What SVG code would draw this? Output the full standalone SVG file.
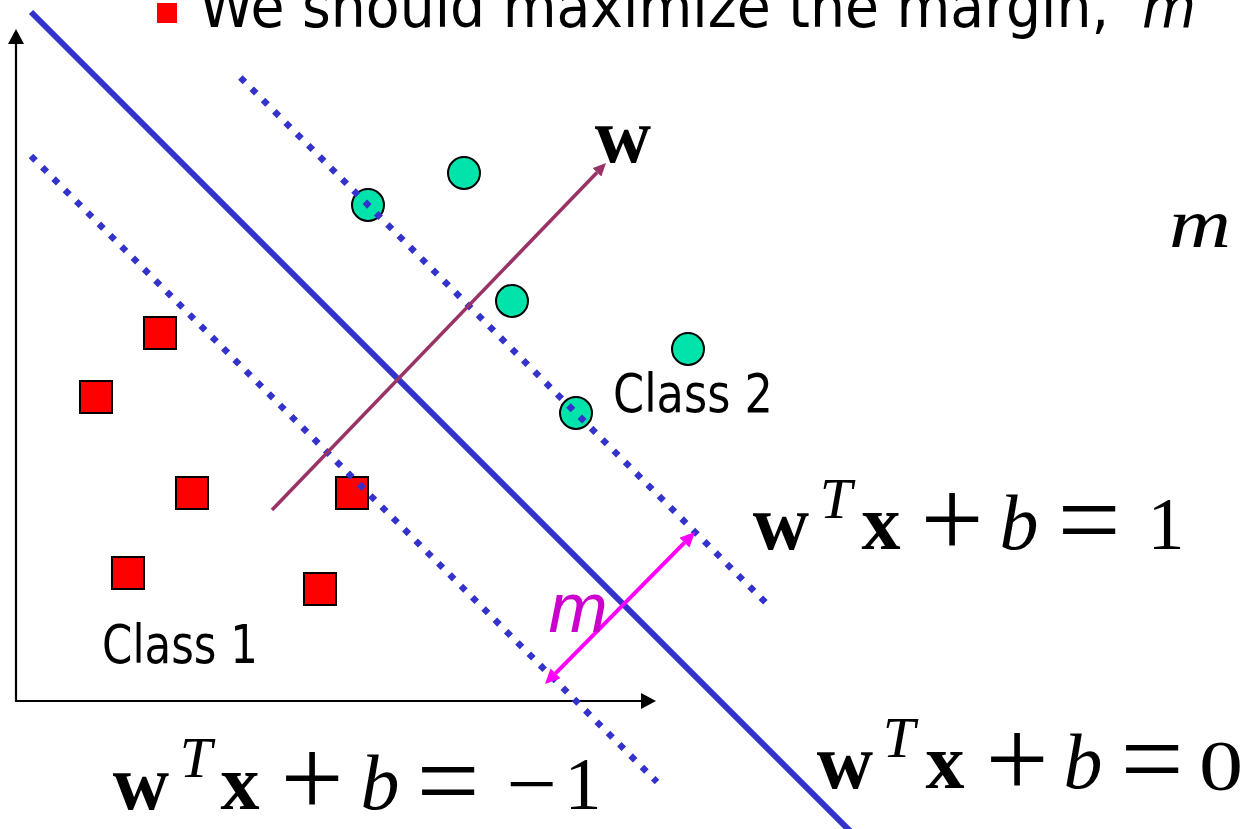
<svg xmlns="http://www.w3.org/2000/svg" width="1250" height="829" viewBox="0 0 1250 829">
<defs>
<style>
.sq{fill:#ff0000;stroke:#000;stroke-width:2}
.ci{fill:#00e3aa;stroke:#000;stroke-width:2}
.hyp{stroke:#3333cc;stroke-width:6;fill:none}
.dot{stroke:#3333cc;stroke-width:6.4;stroke-dasharray:6.4 9.6;fill:none}
.axis{stroke:#000;stroke-width:2.2;fill:none}
.bw{font-family:"Liberation Serif",serif;font-weight:bold;font-size:78px}
.sup{font-family:"Liberation Serif",serif;font-style:italic;font-size:58px}
.ib{font-family:"Liberation Serif",serif;font-style:italic;font-size:78px}
.op{font-family:"Liberation Serif",serif;font-size:112px}
.num{font-family:"Liberation Serif",serif;font-size:74px}
.lbl{font-family:"DejaVu Sans",sans-serif;font-size:53px}
text{text-anchor:middle;fill:#000}
</style>
<marker id="ah" markerUnits="userSpaceOnUse" markerWidth="15" markerHeight="16" refX="0" refY="8" orient="auto"><path d="M0,0 L15,8 L0,16 z" fill="#000"/></marker>
<marker id="ahw" markerUnits="userSpaceOnUse" markerWidth="13" markerHeight="12" refX="0" refY="6" orient="auto"><path d="M0,0 L13,6 L0,12 z" fill="#993366"/></marker>
<marker id="ahm" markerUnits="userSpaceOnUse" markerWidth="15" markerHeight="14" refX="0" refY="7" orient="auto-start-reverse"><path d="M0,0 L15,7 L0,14 z" fill="#ff00ff"/></marker>
</defs>
<rect width="1250" height="829" fill="#fff"/>

<g id="title">
<rect x="157" y="3" width="20" height="20" fill="#ff0000"/>
<text x="199" y="27" style="text-anchor:start;font-family:'DejaVu Sans',sans-serif;font-size:58px" textLength="910" lengthAdjust="spacingAndGlyphs">We should maximize the margin,</text>
<text x="1142" y="27" style="text-anchor:start;font-family:'DejaVu Sans',sans-serif;font-size:58px;font-style:italic" textLength="54" lengthAdjust="spacingAndGlyphs">m</text>
</g>

<g id="class1-points">
<rect class="sq" x="144" y="317" width="32" height="32"/>
<rect class="sq" x="80" y="381" width="32" height="32"/>
<rect class="sq" x="176" y="477" width="32" height="32"/>
<rect class="sq" x="336" y="477" width="32" height="32"/>
<rect class="sq" x="112" y="557" width="32" height="32"/>
<rect class="sq" x="304" y="573" width="32" height="32"/>
</g>
<g id="class2-points">
<circle class="ci" cx="368" cy="205" r="16"/>
<circle class="ci" cx="464" cy="173" r="16"/>
<circle class="ci" cx="512" cy="301" r="16"/>
<circle class="ci" cx="688" cy="349" r="16"/>
<circle class="ci" cx="576" cy="413" r="16"/>
</g>

<g id="connectors">
<line class="axis" x1="16" y1="701" x2="16" y2="44" marker-end="url(#ah)"/>
<line class="axis" x1="15" y1="701" x2="641" y2="701" marker-end="url(#ah)"/>
<line class="hyp" x1="31" y1="12" x2="852" y2="833"/>
<line class="dot" x1="240.4" y1="77.4" x2="768" y2="605"/>
<line class="dot" x1="31" y1="156" x2="657" y2="782"/>
<line x1="272" y1="510" x2="597" y2="172.4" stroke="#993366" stroke-width="3.6" marker-end="url(#ahw)"/>
<line x1="555.5" y1="673.3" x2="684.5" y2="542.7" stroke="#ff00ff" stroke-width="4" marker-start="url(#ahm)" marker-end="url(#ahm)"/>
</g>

<g id="label-class1"><text class="lbl" x="102" y="663" textLength="156" lengthAdjust="spacingAndGlyphs" style="text-anchor:start">Class 1</text></g>
<g id="label-class2"><text class="lbl" x="613" y="412" textLength="160" lengthAdjust="spacingAndGlyphs" style="text-anchor:start">Class 2</text></g>

<g id="label-w"><text class="bw" x="623" y="162">w</text></g>
<g id="label-m-right"><text class="ib" x="1200" y="247" style="font-size:70px" textLength="62" lengthAdjust="spacingAndGlyphs">m</text></g>
<g id="label-m-margin"><text x="578" y="632" style="font-family:'Liberation Sans',sans-serif;font-style:italic;font-size:71px;fill:#cc00cc">m</text></g>

<g id="eq-plus1">
<text class="bw" x="781" y="549">w</text>
<text class="sup" x="836" y="518">T</text>
<text class="bw" x="881" y="549">x</text>
<text class="op" x="952" y="557">+</text>
<text class="ib" x="1019" y="549">b</text>
<text class="op" x="1089" y="557">=</text>
<text class="num" x="1166" y="549">1</text>
</g>

<g id="eq-minus1">
<text class="bw" x="141" y="809">w</text>
<text class="sup" x="196" y="777">T</text>
<text class="bw" x="240" y="809">x</text>
<text class="op" x="312" y="816">+</text>
<text class="ib" x="380" y="809">b</text>
<text class="op" x="448" y="818">=</text>
<text class="op" x="532" y="814" style="font-size:90px">−</text>
<text class="num" x="583" y="809">1</text>
</g>

<g id="eq-zero">
<text class="bw" x="845" y="788">w</text>
<text class="sup" x="899" y="757">T</text>
<text class="bw" x="945" y="788">x</text>
<text class="op" x="1017" y="797">+</text>
<text class="ib" x="1083" y="788">b</text>
<text class="op" x="1152" y="796">=</text>
<text class="num" x="1221" y="790" style="font-size:72px" textLength="44" lengthAdjust="spacingAndGlyphs">0</text>
</g>
</svg>
